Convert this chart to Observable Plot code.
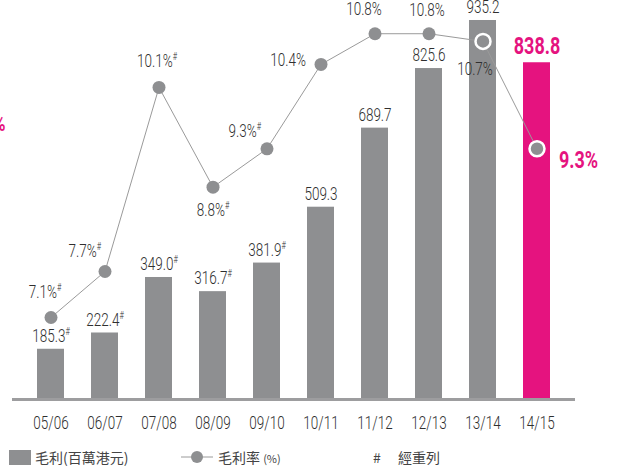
<!DOCTYPE html>
<html><head><meta charset="utf-8">
<script src="https://cdn.jsdelivr.net/npm/d3@7"></script>
<script src="https://cdn.jsdelivr.net/npm/@observablehq/plot@0.6"></script>
<style>
body{margin:0;background:#fff;width:618px;height:470px;overflow:hidden}
#chart svg{display:block}
#legend{position:relative;height:30px;font-family:"Noto Sans CJK TC","Noto Sans CJK SC",sans-serif;font-size:14px;color:#444}
#legend span,#legend div,#legend svg{position:absolute}
</style></head><body>
<div id="chart"></div>
<div id="legend">
  <div style="left:9px;top:10px;width:22px;height:15px;background:#8e8f91"></div>
  <span style="left:35px;top:7px">毛利(百萬港元)</span>
  <svg style="left:180px;top:9px" width="34" height="16"><line x1="1" x2="33" y1="8" y2="8" stroke="#9a9a9a" stroke-width="1"/><circle cx="17" cy="8" r="6" fill="#8e8f91"/></svg>
  <span style="left:218px;top:7px">毛利率 <span style="position:static;font-size:11px">(%)</span></span>
  <span style="left:373px;top:7px">#</span>
  <span style="left:398px;top:7px">經重列</span>
</div>
<script>
const years = ["05/06","06/07","07/08","08/09","09/10","10/11","11/12","12/13","13/14","14/15"];
const grossProfit = [185.3,222.4,349.0,316.7,381.9,509.3,689.7,825.6,935.2,838.8];
const profitLabels = ["185.3#","222.4#","349.0#","316.7#","381.9#","509.3","689.7","825.6","935.2","838.8"];
const grossMargin = [7.1,7.7,10.1,8.8,9.3,10.4,10.8,10.8,10.7,9.3];
const marginLabels = ["7.1%#","7.7%#","10.1%#","8.8%#","9.3%#","10.4%","10.8%","10.8%","10.7%","9.3%"];
const highlightYear = "14/15";
const ringYears = ["13/14","14/15"];

// label placement (layout only)
const marginPlace = [
  {dx:-6, dy:-25, anchor:"middle"},
  {dx:-4, dy:-20, anchor:"end"},
  {dx:-2, dy:-26, anchor:"middle"},
  {dx:0, dy:23, anchor:"middle"},
  {dx:-6, dy:-18, anchor:"end"},
  {dx:-15, dy:-4, anchor:"end"},
  {dx:-11, dy:-24, anchor:"middle"},
  {dx:-2, dy:-23, anchor:"middle"},
  {dx:-8, dy:28, anchor:"middle"},
  {dx:22, dy:12, anchor:"start"}
];

const yMin = 70.7, yMax = 980.8;
// secondary axis: gross margin (%) mapped onto the bar scale
const pctToY = d3.scaleLinear().domain([7.1, 10.8]).range([257.7, 905]);

const bars = years.map((yr,i)=>({year:yr, value:grossProfit[i], label:profitLabels[i]}));
const pts = years.map((yr,i)=>({year:yr, pct:grossMargin[i], y:pctToY(grossMargin[i]), label:marginLabels[i]}));

const numFont = 'Roboto,"Liberation Sans Narrow",sans-serif';
const textColor = "#2f2f2f";
const pink = "#e5137f";
const gray = "#8e8f91";
const fs = 18, fsBig = 24;

const marks = [
  Plot.barY(bars, {x:"year", y1:()=>yMin, y2:"value", fill:d=>d.year===highlightYear?pink:gray}),
  Plot.ruleY([yMin], {stroke:"#9d9d9f", strokeWidth:3, insetLeft:4, insetRight:3}),
  Plot.text(bars.filter(d=>d.year!==highlightYear), {x:"year", y:"value", text:"label", dy:-13, fill:textColor, fontSize:fs, fontWeight:300}),
  Plot.text(bars.filter(d=>d.year===highlightYear), {x:"year", y:"value", text:"label", dy:-16, fill:pink, fontSize:fsBig, fontWeight:"bold"}),
  Plot.line(pts, {x:"year", y:"y", stroke:"#9a9a9a", strokeWidth:1}),
  Plot.dot(pts.filter(d=>!ringYears.includes(d.year)), {x:"year", y:"y", r:6.5, fill:gray}),
  Plot.dot(pts.filter(d=>ringYears.includes(d.year)), {x:"year", y:"y", r:7.5, fill:gray, stroke:"#fff", strokeWidth:2.5}),
  ...pts.map((d,i)=>Plot.text([d], {x:"year", y:"y", text:"label", dx:marginPlace[i].dx, dy:marginPlace[i].dy, textAnchor:marginPlace[i].anchor,
      fill: d.year===highlightYear?pink:textColor, fontSize: d.year===highlightYear?fsBig:fs, fontWeight: d.year===highlightYear?"bold":300})),
  Plot.text(["%"], {frameAnchor:"top-left", textAnchor:"end", dx:-3, dy:115, fill:pink, fontSize:22, fontWeight:"bold"}),
  Plot.axisX({tickSize:0, tickPadding:17, fontSize:fs, fontWeight:300})
];

const chart = Plot.plot({
  width:618, height:440,
  marginTop:0, marginBottom:41, marginLeft:8, marginRight:40,
  x:{domain:years, padding:0.5, label:null},
  y:{domain:[yMin,yMax], axis:null},
  style:{fontFamily:numFont, fontSize:fs+"px", color:textColor, background:"transparent"},
  marks
});

const k = 0.75; // condensed look
chart.querySelectorAll("text").forEach(t=>{
  // superscript "#"
  const s = t.textContent;
  if (s.length>1 && s.endsWith("#")) {
    const holder = t.children.length ? [...t.querySelectorAll("tspan")].find(sp=>sp.textContent.endsWith("#")) : t;
    if (holder) {
      holder.textContent = holder.textContent.slice(0,-1);
      const ts = document.createElementNS("http://www.w3.org/2000/svg","tspan");
      ts.setAttribute("font-size","10");
      ts.setAttribute("dy","-7");
      ts.textContent = "#";
      if (holder === t) t.appendChild(ts); else holder.after(ts);
    }
  }
  // horizontal condensing around the text's anchor
  const tr = t.getAttribute("transform") || "";
  t.setAttribute("transform", `${tr} scale(${k},1)`);
});
document.getElementById("chart").appendChild(chart);
</script>
</body></html>
